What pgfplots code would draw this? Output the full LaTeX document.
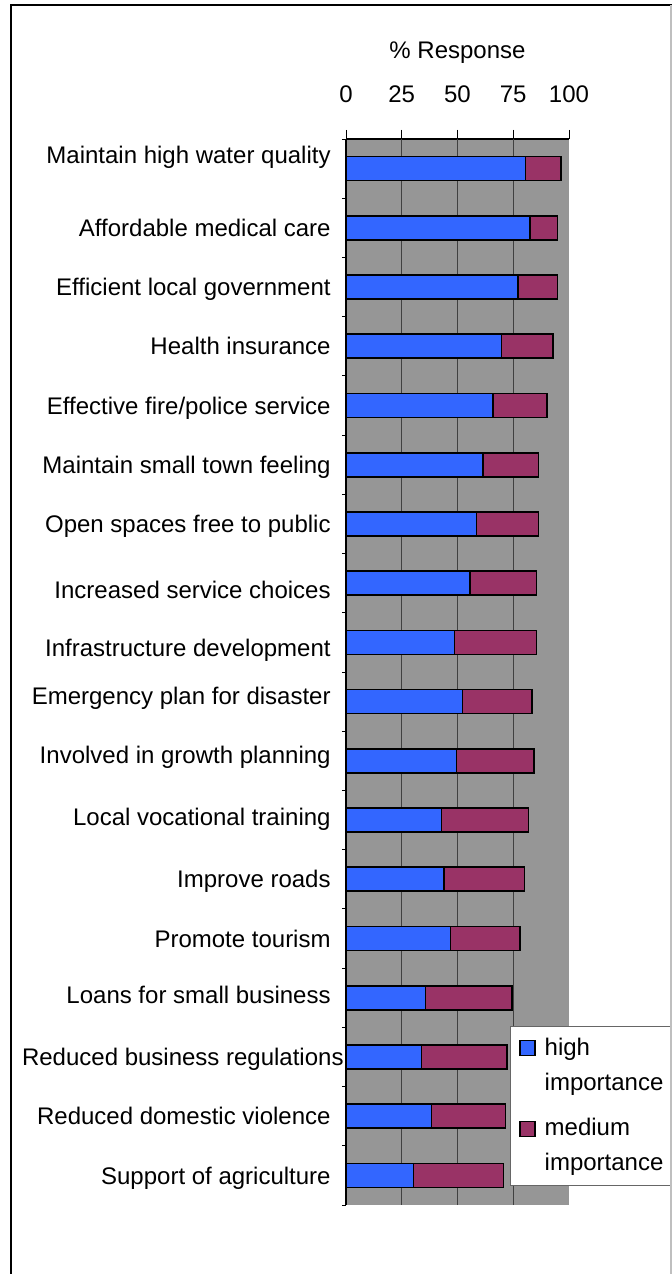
\documentclass[border=0pt]{standalone}
\usepackage{pgfplots}
\pgfplotsset{compat=1.18}
\usepackage{fontspec}
\setmainfont{Liberation Sans}
\definecolor{hiblue}{RGB}{51,102,255}
\definecolor{medred}{RGB}{153,51,102}
\definecolor{bggray}{RGB}{150,150,150}
\newcommand\lstrut{\rule[-2.6bp]{0pt}{11.3bp}}
\pgfplotsset{sq legend/.style={legend image code/.code={\draw[##1, line width=0.6bp] (0bp,5.0bp) rectangle (7.5bp,12.5bp);}}}
\begin{document}
\begin{tikzpicture}[font=\fontsize{12bp}{14bp}\selectfont]
\begin{axis}[
  at={(173bp,34.5bp)}, anchor=south west,
  scale only axis, width=111.5bp, height=533bp,
  xbar stacked, bar width=12bp,
  xmin=0, xmax=100, ymin=0.5, ymax=18.5, y dir=reverse,
  axis x line*=top, axis y line*=left,
  axis line style={black, line width=0.6bp},
  axis background/.style={fill=bggray},
  xtick={0,25,50,75,100},
  extra x ticks={25,50,75}, extra x tick labels={}, extra x tick style={grid=major},
  grid style={black!75, line width=0.5bp},
  tick align=outside, major tick length=4.5bp, minor tick length=2bp,
  tick style={black, line width=0.5bp},
  ytick={1,...,18},
  yticklabels={
    \raisebox{7bp}{Maintain high water quality},
    Affordable medical care,
    Efficient local government,
    Health insurance,
    Effective fire/police service,
    Maintain small town feeling,
    Open spaces free to public,
    \raisebox{-3.5bp}{Increased service choices},
    \raisebox{-2.5bp}{Infrastructure development},
    \raisebox{3bp}{Emergency plan for disaster},
    \raisebox{3bp}{Involved in growth planning},
    \raisebox{1.5bp}{Local vocational training},
    Improve roads,
    Promote tourism,
    \raisebox{1.5bp}{Loans for small business},
    Reduced business regulations\kern-6.5bp,
    Reduced domestic violence,
    Support of agriculture},
  minor ytick={0.5,1.5,...,18.5},
  every major y tick/.append style={draw=none},
  xticklabel style={inner sep=0pt, anchor=south, yshift=13.5bp},
  yticklabel style={inner sep=0pt, anchor=east, text height=8.7bp, text depth=0bp, xshift=-3bp},
  /pgf/number format/assume math mode=true,
  xlabel={\% Response},
  xlabel style={at={(axis description cs:0.5,1)}, anchor=base, yshift=40bp},
  legend cell align=left,
  legend style={at={(axis description cs:0.7354,0.1679)}, anchor=north west,
    draw=black!60, line width=0.5bp, fill=white,
    inner xsep=4.5bp, inner ysep=5.8bp, row sep=12.5bp, column sep=4.5bp,
    nodes={inner sep=0pt, align=left}},
]
\addplot[fill=hiblue, draw=black, line width=0.8bp, sq legend] coordinates {
  (80.5,1) (82.5,2) (77,3) (69.7,4) (65.9,5) (61.4,6) (58.6,7) (55.7,8) (48.6,9)
  (52.2,10) (49.5,11) (42.9,12) (43.9,13) (46.8,14) (35.7,15) (33.8,16) (38.3,17) (30.2,18)};
\addlegendentry{\lstrut high\\[3.5bp]\lstrut importance}
\addplot[fill=medred, draw=black, line width=0.8bp, sq legend] coordinates {
  (16,1) (12.3,2) (17.8,3) (23.1,4) (24.1,5) (25,6) (27.8,7) (29.8,8) (36.9,9)
  (31.3,10) (34.9,11) (39,12) (36.1,13) (31.2,14) (38.7,15) (38.5,16) (33.3,17) (40.5,18)};
\addlegendentry{\lstrut medium\\[3.5bp]\lstrut importance}
\end{axis}
\draw[black, line width=1bp] (5.5bp,-3bp) -- (5.5bp,634.5bp) -- (337bp,634.5bp);
\draw[black!25, line width=0.8bp] (335.6bp,634.5bp) -- (335.6bp,-3bp);
\pgfresetboundingbox
\useasboundingbox (0,0) rectangle (336bp,637bp);
\end{tikzpicture}
\end{document}
